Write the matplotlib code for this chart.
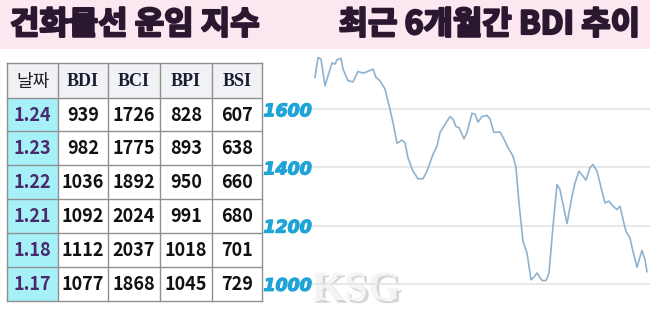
import matplotlib
matplotlib.use('Agg')
import matplotlib.pyplot as plt
import matplotlib.patches as patches
import matplotlib.patheffects as pe

plt.rcParams['font.family'] = ['Noto Sans CJK KR', 'DejaVu Sans']

# table data
columns = ["날짜", "BDI", "BCI", "BPI", "BSI"]
dates = ["1.24", "1.23", "1.22", "1.21", "1.18", "1.17"]
bdi = [939, 982, 1036, 1092, 1112, 1077]
bci = [1726, 1775, 1892, 2024, 2037, 1868]
bpi = [828, 893, 950, 991, 1018, 1045]
bsi = [607, 638, 660, 680, 701, 729]

# BDI trend over the last 6 months
t = [0, 3, 6, 10, 13, 17, 20, 22, 26, 28, 33, 38, 43, 48, 53, 58, 61, 65, 70,
     75, 78, 82, 87, 90, 93, 98, 103, 108, 112, 118, 122, 125, 130, 135, 138,
     141, 144, 149, 152, 157, 160, 163, 167, 172, 175, 179, 185, 189, 193, 198,
     201, 204, 208, 212, 216, 219, 222, 227, 231, 234, 238, 242, 245, 252, 257,
     260, 264, 268, 271, 275, 278, 282, 287, 290, 294, 298, 302, 305, 308, 311,
     315, 318, 322, 327, 330, 332]
trend = [1709, 1778, 1772, 1680, 1715, 1759, 1755, 1770, 1775, 1738, 1698, 1694,
         1730, 1724, 1730, 1738, 1709, 1698, 1669, 1600, 1554, 1483, 1494, 1485,
         1433, 1387, 1361, 1361, 1387, 1445, 1473, 1520, 1548, 1575, 1566, 1540,
         1537, 1498, 1520, 1586, 1583, 1556, 1575, 1579, 1566, 1520, 1522, 1497,
         1468, 1439, 1399, 1278, 1146, 1106, 1014, 1023, 1037, 1011, 1011, 1037,
         1198, 1341, 1324, 1207, 1301, 1347, 1387, 1370, 1356, 1399, 1410, 1387,
         1318, 1278, 1284, 1267, 1255, 1267, 1221, 1180, 1157, 1111, 1057, 1115,
         1083, 1042]
yticks = [1000, 1200, 1400, 1600]

W, H = 650, 310
fig = plt.figure(figsize=(6.5, 3.1), dpi=100)
fig.patch.set_facecolor('white')

# background canvas in pixel coordinates
bg = fig.add_axes([0, 0, 1, 1])
bg.set_xlim(0, W)
bg.set_ylim(H, 0)
bg.axis('off')

# title band
title_c = '#2a1730'
heavy = [pe.withStroke(linewidth=1.6, foreground=title_c)]
bg.add_patch(patches.Rectangle((0, 0), W, 49, facecolor='#fce6f0', edgecolor='none'))
bg.text(10, 25, "건화물선 운임 지수", fontsize=23, fontweight='bold', color=title_c,
        ha='left', va='center', path_effects=heavy)
bg.text(640, 25, "최근 6개월간 BDI 추이", fontsize=23, fontweight='bold', color=title_c,
        ha='right', va='center', path_effects=heavy)

# table
col_x = [7, 58, 108, 160, 212, 262]
row_y = [63, 98, 131, 165, 199, 233, 267, 301]
grid_c = '#8f8f8f'

bg.add_patch(patches.Rectangle((col_x[0], row_y[0]), col_x[-1] - col_x[0], row_y[1] - row_y[0],
                               facecolor='#f0f2f6', edgecolor='none'))
bg.add_patch(patches.Rectangle((col_x[0], row_y[1]), col_x[1] - col_x[0], row_y[-1] - row_y[1],
                               facecolor='#a6f1f7', edgecolor='none'))
for x in col_x:
    bg.plot([x, x], [row_y[0], row_y[-1]], color=grid_c, lw=1)
for y in row_y:
    bg.plot([col_x[0], col_x[-1]], [y, y], color=grid_c, lw=1)

for j, name in enumerate(columns):
    cx = (col_x[j] + col_x[j + 1]) / 2
    cy = (row_y[0] + row_y[1]) / 2 + 1
    if j == 0:
        bg.text(cx, cy, name, fontsize=13, color='#222222', ha='center', va='center')
    else:
        bg.text(cx, cy, name, fontsize=13, fontweight='bold', color='#1c1c30',
                family='Liberation Serif', ha='center', va='center')

for i, d in enumerate(dates):
    cy = (row_y[i + 1] + row_y[i + 2]) / 2 + 1
    bg.text((col_x[0] + col_x[1]) / 2, cy, d, fontsize=13, fontweight='bold',
            color='#4a2a6e', ha='center', va='center')
    for j, vals in enumerate([bdi, bci, bpi, bsi]):
        bg.text((col_x[j + 1] + col_x[j + 2]) / 2, cy, str(vals[i]), fontsize=13,
                fontweight='bold', color='#111111', ha='center', va='center')

# line chart
ax = fig.add_axes([312 / W, 0, 338 / W, 261 / H])
ax.set_facecolor('none')
ax.plot(t, trend, color='#8fb2cf', lw=1.2)
ax.set_xlim(-3, 335)
ax.set_ylim(910, 1807)
ax.set_yticks(yticks)
ax.grid(axis='y', color='#e6e6e6', lw=1.3)
ax.set_axisbelow(True)
for s in ax.spines.values():
    s.set_visible(False)
ax.tick_params(axis='both', length=0)
ax.set_xticks([])
labels = ax.set_yticklabels([str(v) for v in yticks], fontsize=12.5, fontweight='bold',
                            style='italic', color='#1ea4d6', family='DejaVu Sans')
for lab in labels:
    lab.set_path_effects([pe.withStroke(linewidth=0.9, foreground='#1ea4d6')])
ax.tick_params(axis='y', pad=0)

# watermark
bg.text(356, 290, "KSG", fontsize=30, fontweight='bold', family='Liberation Serif',
        color='#f4f4f4', ha='center', va='center',
        path_effects=[pe.withSimplePatchShadow(offset=(2, -2), shadow_rgbFace='#bbbbbb', alpha=0.6)])

fig.savefig('out.png', dpi=100)
